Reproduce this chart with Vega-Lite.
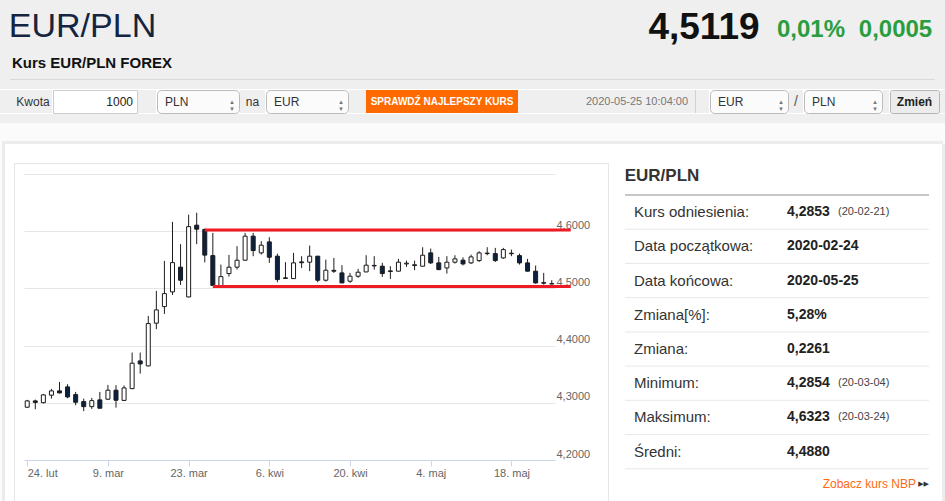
{
  "$schema": "https://vega.github.io/schema/vega-lite/v6.json",
  "background": "#ffffff",
  "padding": 0,
  "spacing": 0,
  "config": {"view": {"stroke": null}, "font": "Liberation Sans"},
  "data": {"values": [{}]},
  "datasets": {
    "candles": [
      {"d": "2020-02-24", "o": 4.2923, "h": 4.3051, "l": 4.2911, "c": 4.3033},
      {"d": "2020-02-25", "o": 4.3033, "h": 4.3056, "l": 4.2888, "c": 4.3007},
      {"d": "2020-02-26", "o": 4.3003, "h": 4.3156, "l": 4.2989, "c": 4.3138},
      {"d": "2020-02-27", "o": 4.3133, "h": 4.3243, "l": 4.3073, "c": 4.3208},
      {"d": "2020-02-28", "o": 4.3208, "h": 4.3365, "l": 4.3164, "c": 4.3173},
      {"d": "2020-03-02", "o": 4.3278, "h": 4.3325, "l": 4.3080, "c": 4.3103},
      {"d": "2020-03-03", "o": 4.3143, "h": 4.3190, "l": 4.2958, "c": 4.3010},
      {"d": "2020-03-04", "o": 4.3021, "h": 4.3073, "l": 4.2854, "c": 4.2933},
      {"d": "2020-03-05", "o": 4.2933, "h": 4.3086, "l": 4.2893, "c": 4.3038},
      {"d": "2020-03-06", "o": 4.3051, "h": 4.3190, "l": 4.2902, "c": 4.2905},
      {"d": "2020-03-09", "o": 4.3063, "h": 4.3313, "l": 4.3051, "c": 4.3220},
      {"d": "2020-03-10", "o": 4.3220, "h": 4.3308, "l": 4.2916, "c": 4.3045},
      {"d": "2020-03-11", "o": 4.3042, "h": 4.3304, "l": 4.3033, "c": 4.3260},
      {"d": "2020-03-12", "o": 4.3248, "h": 4.3878, "l": 4.3238, "c": 4.3692},
      {"d": "2020-03-13", "o": 4.3732, "h": 4.3878, "l": 4.3510, "c": 4.3680},
      {"d": "2020-03-16", "o": 4.3645, "h": 4.4519, "l": 4.3636, "c": 4.4385},
      {"d": "2020-03-17", "o": 4.4392, "h": 4.4956, "l": 4.4287, "c": 4.4624},
      {"d": "2020-03-18", "o": 4.4682, "h": 4.5481, "l": 4.4554, "c": 4.4909},
      {"d": "2020-03-19", "o": 4.4939, "h": 4.6163, "l": 4.4886, "c": 4.5451},
      {"d": "2020-03-20", "o": 4.5371, "h": 4.5773, "l": 4.5061, "c": 4.5143},
      {"d": "2020-03-23", "o": 4.4851, "h": 4.6290, "l": 4.4845, "c": 4.6080},
      {"d": "2020-03-24", "o": 4.6105, "h": 4.6323, "l": 4.5773, "c": 4.6035},
      {"d": "2020-03-25", "o": 4.6031, "h": 4.6045, "l": 4.5455, "c": 4.5582},
      {"d": "2020-03-26", "o": 4.5573, "h": 4.5970, "l": 4.5044, "c": 4.5052},
      {"d": "2020-03-27", "o": 4.5049, "h": 4.5416, "l": 4.5045, "c": 4.5206},
      {"d": "2020-03-30", "o": 4.5259, "h": 4.5586, "l": 4.5206, "c": 4.5371},
      {"d": "2020-03-31", "o": 4.5371, "h": 4.5738, "l": 4.5329, "c": 4.5493},
      {"d": "2020-04-01", "o": 4.5493, "h": 4.5970, "l": 4.5490, "c": 4.5913},
      {"d": "2020-04-02", "o": 4.5913, "h": 4.5970, "l": 4.5563, "c": 4.5661},
      {"d": "2020-04-03", "o": 4.5621, "h": 4.5825, "l": 4.5591, "c": 4.5755},
      {"d": "2020-04-06", "o": 4.5813, "h": 4.5895, "l": 4.5446, "c": 4.5545},
      {"d": "2020-04-07", "o": 4.5563, "h": 4.5608, "l": 4.5108, "c": 4.5154},
      {"d": "2020-04-08", "o": 4.5184, "h": 4.5458, "l": 4.5170, "c": 4.5175},
      {"d": "2020-04-09", "o": 4.5171, "h": 4.5621, "l": 4.5168, "c": 4.5446},
      {"d": "2020-04-10", "o": 4.5463, "h": 4.5563, "l": 4.5358, "c": 4.5449},
      {"d": "2020-04-13", "o": 4.5458, "h": 4.5748, "l": 4.5301, "c": 4.5563},
      {"d": "2020-04-14", "o": 4.5563, "h": 4.5570, "l": 4.5108, "c": 4.5143},
      {"d": "2020-04-15", "o": 4.5143, "h": 4.5503, "l": 4.5119, "c": 4.5318},
      {"d": "2020-04-16", "o": 4.5315, "h": 4.5533, "l": 4.5271, "c": 4.5301},
      {"d": "2020-04-17", "o": 4.5271, "h": 4.5406, "l": 4.5093, "c": 4.5096},
      {"d": "2020-04-20", "o": 4.5126, "h": 4.5271, "l": 4.5096, "c": 4.5213},
      {"d": "2020-04-21", "o": 4.5213, "h": 4.5341, "l": 4.5184, "c": 4.5283},
      {"d": "2020-04-22", "o": 4.5288, "h": 4.5580, "l": 4.5284, "c": 4.5406},
      {"d": "2020-04-23", "o": 4.5393, "h": 4.5563, "l": 4.5329, "c": 4.5402},
      {"d": "2020-04-24", "o": 4.5388, "h": 4.5446, "l": 4.5201, "c": 4.5259},
      {"d": "2020-04-27", "o": 4.5306, "h": 4.5388, "l": 4.5166, "c": 4.5295},
      {"d": "2020-04-28", "o": 4.5301, "h": 4.5516, "l": 4.5298, "c": 4.5458},
      {"d": "2020-04-29", "o": 4.5428, "h": 4.5486, "l": 4.5376, "c": 4.5441},
      {"d": "2020-04-30", "o": 4.5399, "h": 4.5486, "l": 4.5318, "c": 4.5414},
      {"d": "2020-05-01", "o": 4.5388, "h": 4.5720, "l": 4.5385, "c": 4.5580},
      {"d": "2020-05-04", "o": 4.5621, "h": 4.5696, "l": 4.5428, "c": 4.5446},
      {"d": "2020-05-05", "o": 4.5446, "h": 4.5551, "l": 4.5318, "c": 4.5329},
      {"d": "2020-05-06", "o": 4.5358, "h": 4.5563, "l": 4.5259, "c": 4.5458},
      {"d": "2020-05-07", "o": 4.5458, "h": 4.5580, "l": 4.5434, "c": 4.5516},
      {"d": "2020-05-08", "o": 4.5493, "h": 4.5542, "l": 4.5402, "c": 4.5428},
      {"d": "2020-05-11", "o": 4.5446, "h": 4.5591, "l": 4.5428, "c": 4.5551},
      {"d": "2020-05-12", "o": 4.5486, "h": 4.5650, "l": 4.5463, "c": 4.5621},
      {"d": "2020-05-13", "o": 4.5608, "h": 4.5720, "l": 4.5580, "c": 4.5617},
      {"d": "2020-05-14", "o": 4.5608, "h": 4.5708, "l": 4.5463, "c": 4.5486},
      {"d": "2020-05-15", "o": 4.5533, "h": 4.5708, "l": 4.5516, "c": 4.5678},
      {"d": "2020-05-18", "o": 4.5615, "h": 4.5678, "l": 4.5563, "c": 4.5607},
      {"d": "2020-05-19", "o": 4.5573, "h": 4.5608, "l": 4.5416, "c": 4.5446},
      {"d": "2020-05-20", "o": 4.5446, "h": 4.5516, "l": 4.5295, "c": 4.5301},
      {"d": "2020-05-21", "o": 4.5301, "h": 4.5399, "l": 4.5084, "c": 4.5096},
      {"d": "2020-05-22", "o": 4.5100, "h": 4.5271, "l": 4.5066, "c": 4.5091},
      {"d": "2020-05-25", "o": 4.5082, "h": 4.5143, "l": 4.5075, "c": 4.5077}
    ],
    "levels": [
      {"d": "2020-03-25", "d2": "2020-05-25", "lvl": 4.6023},
      {"d": "2020-03-26", "d2": "2020-05-25", "lvl": 4.5035}
    ],
    "stats": [
      {"k": "Kurs odniesienia:", "v": "4,2853", "dt": "(20-02-21)"},
      {"k": "Data początkowa:", "v": "2020-02-24", "dt": ""},
      {"k": "Data końcowa:", "v": "2020-05-25", "dt": ""},
      {"k": "Zmiana[%]:", "v": "5,28%", "dt": ""},
      {"k": "Zmiana:", "v": "0,2261", "dt": ""},
      {"k": "Minimum:", "v": "4,2854", "dt": "(20-03-04)"},
      {"k": "Maksimum:", "v": "4,6323", "dt": "(20-03-24)"},
      {"k": "Średni:", "v": "4,4880", "dt": ""}
    ]
  },
  "vconcat": [
    {
      "hconcat": [
        {"width": 165, "height": 52, "view": {"fill": "#efefef"}, "mark": {"type": "text", "text": "EUR/PLN", "fontSize": 34, "color": "#15253f", "dy": 1}},
        {"width": 479, "height": 52, "view": {"fill": "#efefef"}, "mark": {"type": "text", "text": "", "fontSize": 0}},
        {"width": 120, "height": 52, "view": {"fill": "#efefef"}, "mark": {"type": "text", "text": "4,5119", "fontWeight": "bold", "fontSize": 37, "color": "#111111", "dy": 2}},
        {"width": 94, "height": 52, "view": {"fill": "#efefef"}, "mark": {"type": "text", "text": "0,01%", "fontWeight": "bold", "fontSize": 24, "color": "#2a9d3f", "dy": 4}},
        {"width": 75, "height": 52, "view": {"fill": "#efefef"}, "mark": {"type": "text", "text": "0,0005", "fontWeight": "bold", "fontSize": 24, "color": "#2a9d3f", "dy": 4}},
        {"width": 12, "height": 52, "view": {"fill": "#efefef"}, "mark": {"type": "text", "text": "", "fontSize": 0}}
      ],
      "spacing": 0
    },
    {
      "hconcat": [
        {"width": 184, "height": 22, "view": {"fill": "#efefef"}, "mark": {"type": "text", "text": "Kurs EUR/PLN FOREX", "fontWeight": "bold", "fontSize": 15, "color": "#111111"}},
        {"width": 761, "height": 22, "view": {"fill": "#efefef"}, "mark": {"type": "text", "text": "", "fontSize": 0}}
      ],
      "spacing": 0
    },
    {"width": 945, "height": 5, "view": {"fill": "#efefef"}, "mark": {"type": "text", "text": "", "fontSize": 0}},
    {
      "hconcat": [
        {"width": 10, "height": 1, "view": {"fill": "#efefef"}, "mark": {"type": "text", "text": "", "fontSize": 0}},
        {"width": 925, "height": 1, "view": {"fill": "#d9d9d9"}, "mark": {"type": "text", "text": "", "fontSize": 0}},
        {"width": 10, "height": 1, "view": {"fill": "#efefef"}, "mark": {"type": "text", "text": "", "fontSize": 0}}
      ],
      "spacing": 0
    },
    {"width": 945, "height": 9, "view": {"fill": "#efefef"}, "mark": {"type": "text", "text": "", "fontSize": 0}},
    {
      "hconcat": [
        {"width": 14, "height": 23, "view": {"fill": "#efefef"}, "mark": {"type": "text", "text": "", "fontSize": 0}},
        {"width": 38, "height": 23, "view": {"fill": "#efefef"}, "mark": {"type": "text", "text": "Kwota", "fontSize": 12, "color": "#333333"}},
        {"width": 84, "height": 23, "view": {"fill": "#ffffff", "stroke": "#cccccc"}, "mark": {"type": "text", "text": "1000", "align": "right", "dx": 38, "fontSize": 12, "color": "#222222"}},
        {"width": 18, "height": 23, "view": {"fill": "#efefef"}, "mark": {"type": "text", "text": "", "fontSize": 0}},
        {"width": 82, "height": 23, "view": {"fill": "#fbfbfb", "stroke": "#bbbbbb", "cornerRadius": 4}, "layer": [
          {"mark": {"type": "text", "text": "PLN", "align": "left", "dx": -33, "fontSize": 12, "color": "#333333"}},
          {"mark": {"type": "text", "text": ["▴", "▾"], "dx": 34, "fontSize": 7, "lineHeight": 7, "color": "#777777", "font": "DejaVu Sans"}}
        ]},
        {"width": 25, "height": 23, "view": {"fill": "#efefef"}, "mark": {"type": "text", "text": "na", "fontSize": 12, "color": "#333333"}},
        {"width": 82, "height": 23, "view": {"fill": "#fbfbfb", "stroke": "#bbbbbb", "cornerRadius": 4}, "layer": [
          {"mark": {"type": "text", "text": "EUR", "align": "left", "dx": -33, "fontSize": 12, "color": "#333333"}},
          {"mark": {"type": "text", "text": ["▴", "▾"], "dx": 34, "fontSize": 7, "lineHeight": 7, "color": "#777777", "font": "DejaVu Sans"}}
        ]},
        {"width": 17, "height": 23, "view": {"fill": "#efefef"}, "mark": {"type": "text", "text": "", "fontSize": 0}},
        {"width": 152, "height": 23, "view": {"fill": "#ff6a00"}, "mark": {"type": "text", "text": "SPRAWDŹ NAJLEPSZY KURS", "fontWeight": "bold", "fontSize": 10, "color": "#ffffff"}},
        {"width": 66, "height": 23, "view": {"fill": "#efefef"}, "mark": {"type": "text", "text": "", "fontSize": 0}},
        {"width": 106, "height": 23, "view": {"fill": "#efefef"}, "mark": {"type": "text", "text": "2020-05-25 10:04:00", "fontSize": 11, "color": "#777777"}},
        {"width": 5, "height": 23, "view": {"fill": "#efefef"}, "mark": {"type": "text", "text": "", "fontSize": 0}},
        {"width": 1, "height": 23, "view": {"fill": "#d2d2d2"}, "mark": {"type": "text", "text": "", "fontSize": 0}},
        {"width": 13, "height": 23, "view": {"fill": "#efefef"}, "mark": {"type": "text", "text": "", "fontSize": 0}},
        {"width": 78, "height": 23, "view": {"fill": "#fbfbfb", "stroke": "#bbbbbb", "cornerRadius": 4}, "layer": [
          {"mark": {"type": "text", "text": "EUR", "align": "left", "dx": -31, "fontSize": 12, "color": "#333333"}},
          {"mark": {"type": "text", "text": ["▴", "▾"], "dx": 32, "fontSize": 7, "lineHeight": 7, "color": "#777777", "font": "DejaVu Sans"}}
        ]},
        {"width": 14, "height": 23, "view": {"fill": "#efefef"}, "mark": {"type": "text", "text": "/", "fontSize": 14, "color": "#555555"}},
        {"width": 78, "height": 23, "view": {"fill": "#fbfbfb", "stroke": "#bbbbbb", "cornerRadius": 4}, "layer": [
          {"mark": {"type": "text", "text": "PLN", "align": "left", "dx": -31, "fontSize": 12, "color": "#333333"}},
          {"mark": {"type": "text", "text": ["▴", "▾"], "dx": 32, "fontSize": 7, "lineHeight": 7, "color": "#777777", "font": "DejaVu Sans"}}
        ]},
        {"width": 6, "height": 23, "view": {"fill": "#efefef"}, "mark": {"type": "text", "text": "", "fontSize": 0}},
        {"width": 49, "height": 23, "view": {"fill": "#ececec", "stroke": "#b5b5b5", "cornerRadius": 2}, "mark": {"type": "text", "text": "Zmień", "fontWeight": "bold", "fontSize": 12, "color": "#222222"}},
        {"width": 17, "height": 23, "view": {"fill": "#efefef"}, "mark": {"type": "text", "text": "", "fontSize": 0}}
      ],
      "spacing": 0
    },
    {"width": 945, "height": 9, "view": {"fill": "#efefef"}, "mark": {"type": "text", "text": "", "fontSize": 0}},
    {"width": 945, "height": 18, "view": {"fill": "#fbfbfb"}, "mark": {"type": "text", "text": "", "fontSize": 0}},
    {
      "hconcat": [
        {"width": 2, "height": 3, "view": {"fill": "#fbfbfb"}, "mark": {"type": "text", "text": "", "fontSize": 0}},
        {"width": 941, "height": 3, "view": {"fill": "#ececec"}, "mark": {"type": "text", "text": "", "fontSize": 0}},
        {"width": 2, "height": 3, "view": {"fill": "#fbfbfb"}, "mark": {"type": "text", "text": "", "fontSize": 0}}
      ],
      "spacing": 0
    },
    {
      "hconcat": [
        {"width": 2, "height": 359, "view": {"fill": "#fbfbfb"}, "mark": {"type": "text", "text": "", "fontSize": 0}},
        {"width": 3, "height": 359, "view": {"fill": "#ececec"}, "mark": {"type": "text", "text": "", "fontSize": 0}},
        {"width": 9, "height": 359, "mark": {"type": "text", "text": "", "fontSize": 0}},
        {
          "vconcat": [
            {"width": 1, "height": 19, "mark": {"type": "text", "text": "", "fontSize": 0}},
            {"width": 1, "height": 340, "view": {"fill": "#e6e6e6"}, "mark": {"type": "text", "text": "", "fontSize": 0}}
          ],
          "spacing": 0
        },
        {
          "vconcat": [
            {"width": 9, "height": 19, "mark": {"type": "text", "text": "", "fontSize": 0}},
            {"width": 9, "height": 1, "view": {"fill": "#e6e6e6"}, "mark": {"type": "text", "text": "", "fontSize": 0}}
          ],
          "spacing": 0
        },
        {
          "vconcat": [
            {"width": 566, "height": 19, "mark": {"type": "text", "text": "", "fontSize": 0}},
            {"width": 566, "height": 1, "view": {"fill": "#e6e6e6"}, "mark": {"type": "text", "text": "", "fontSize": 0}},
            {"width": 531, "height": 10, "mark": {"type": "text", "text": "", "fontSize": 0}},
            {
              "width": 531,
              "height": 286,
              "data": {"name": "candles"},
              "encoding": {
                "x": {
                  "field": "d",
                  "type": "ordinal",
                  "scale": {"type": "point", "padding": 0.4},
                  "axis": {
                    "values": ["2020-02-24", "2020-03-09", "2020-03-23", "2020-04-06", "2020-04-20", "2020-05-04", "2020-05-18"],
                    "labelExpr": "toNumber(substring(datum.value, 8, 10)) + '. ' + (substring(datum.value, 5, 7) == '02' ? 'lut' : substring(datum.value, 5, 7) == '03' ? 'mar' : substring(datum.value, 5, 7) == '04' ? 'kwi' : 'maj')",
                    "title": null,
                    "grid": false,
                    "labelAngle": 0,
                    "domainColor": "#ccd6eb",
                    "tickColor": "#ccd6eb",
                    "tickSize": 6,
                    "labelPadding": 1,
                    "labelFlush": 5,
                    "labelColor": "#666666",
                    "labelFontSize": 11,
                    "labelFont": "Liberation Sans"
                  }
                }
              },
              "layer": [
                {
                  "mark": {"type": "rule", "color": "#1e1e1e", "strokeWidth": 1},
                  "encoding": {
                    "y": {
                      "field": "l",
                      "type": "quantitative",
                      "scale": {"domain": [4.2, 4.7], "nice": false, "zero": false},
                      "axis": {
                        "orient": "right",
                        "values": [4.2, 4.3, 4.4, 4.5, 4.6, 4.7],
                        "labelExpr": "datum.value > 4.65 ? '' : replace(format(datum.value, '.4f'), '.', ',')",
                        "title": null,
                        "domain": false,
                        "ticks": false,
                        "grid": true,
                        "gridColor": "#e6e6e6",
                        "labelAlign": "left",
                        "labelBaseline": "alphabetic",
                        "labelPadding": 1,
                        "labelOffset": -3,
                        "labelColor": "#666666",
                        "labelFontSize": 11,
                        "labelFont": "Liberation Sans"
                      }
                    },
                    "y2": {"field": "h"}
                  }
                },
                {
                  "mark": {"type": "bar", "width": 4, "stroke": "#1a1a1a", "strokeWidth": 1},
                  "encoding": {
                    "y": {"field": "o", "type": "quantitative"},
                    "y2": {"field": "c"},
                    "fill": {"condition": {"test": "datum.c >= datum.o", "value": "#ffffff"}, "value": "#0c2140"}
                  }
                },
                {
                  "data": {"name": "levels"},
                  "mark": {"type": "rule", "color": "#ee1b24", "strokeWidth": 3, "x2Offset": 19},
                  "encoding": {
                    "x2": {"field": "d2"},
                    "y": {"field": "lvl", "type": "quantitative"}
                  }
                }
              ]
            }
          ],
          "spacing": 0
        },
        {
          "vconcat": [
            {"width": 18, "height": 19, "mark": {"type": "text", "text": "", "fontSize": 0}},
            {"width": 18, "height": 1, "view": {"fill": "#e6e6e6"}, "mark": {"type": "text", "text": "", "fontSize": 0}}
          ],
          "spacing": 0
        },
        {
          "vconcat": [
            {"width": 1, "height": 19, "mark": {"type": "text", "text": "", "fontSize": 0}},
            {"width": 1, "height": 340, "view": {"fill": "#e6e6e6"}, "mark": {"type": "text", "text": "", "fontSize": 0}}
          ],
          "spacing": 0
        },
        {"width": 15, "height": 359, "mark": {"type": "text", "text": "", "fontSize": 0}},
        {
          "vconcat": [
            {"width": 304, "height": 20, "mark": {"type": "text", "text": "", "fontSize": 0}},
            {"width": 74, "height": 30, "mark": {"type": "text", "text": "EUR/PLN", "fontSize": 17, "fontWeight": "bold", "color": "#333333", "dy": -3}},
            {
              "width": 304,
              "height": 308,
              "data": {"name": "stats"},
              "encoding": {
                "y": {
                  "field": "k",
                  "type": "nominal",
                  "scale": {
                    "type": "band",
                    "domain": ["Kurs odniesienia:", "Data początkowa:", "Data końcowa:", "Zmiana[%]:", "Zmiana:", "Minimum:", "Maksimum:", "Średni:", "Zobacz kurs NBP"],
                    "paddingInner": 0,
                    "paddingOuter": 0
                  },
                  "axis": null
                }
              },
              "layer": [
                {
                  "mark": {"type": "rule", "color": "#e8e8e8", "strokeWidth": 1},
                  "encoding": {"y": {"field": "k", "type": "nominal", "bandPosition": 1}}
                },
                {
                  "data": {"values": [{}]},
                  "mark": {"type": "rule", "color": "#c8c8c8", "strokeWidth": 2},
                  "encoding": {"y": {"datum": "Kurs odniesienia:", "type": "nominal", "bandPosition": 0}}
                },
                {
                  "mark": {"type": "text", "align": "left", "dx": -143, "fontSize": 15, "color": "#333333"},
                  "encoding": {"text": {"field": "k"}}
                },
                {
                  "mark": {"type": "text", "align": "left", "dx": 10, "fontSize": 14, "fontWeight": "bold", "color": "#222222"},
                  "encoding": {"text": {"field": "v"}}
                },
                {
                  "mark": {"type": "text", "align": "left", "dx": 61, "fontSize": 11, "color": "#444444"},
                  "encoding": {"text": {"field": "dt"}}
                },
                {
                  "data": {"values": [{}]},
                  "mark": {"type": "text", "align": "right", "dx": 139, "dy": -2, "fontSize": 12, "color": "#ff6a13", "text": "Zobacz kurs NBP"},
                  "encoding": {"y": {"datum": "Zobacz kurs NBP", "type": "nominal"}}
                },
                {
                  "data": {"values": [{}]},
                  "mark": {"type": "text", "align": "right", "dx": 152, "dy": -2, "fontSize": 7, "color": "#333333", "font": "DejaVu Sans", "text": "▶▶"},
                  "encoding": {"y": {"datum": "Zobacz kurs NBP", "type": "nominal"}}
                }
              ]
            }
          ],
          "spacing": 0
        },
        {"width": 12, "height": 359, "mark": {"type": "text", "text": "", "fontSize": 0}},
        {"width": 3, "height": 359, "view": {"fill": "#ececec"}, "mark": {"type": "text", "text": "", "fontSize": 0}},
        {"width": 2, "height": 359, "view": {"fill": "#fbfbfb"}, "mark": {"type": "text", "text": "", "fontSize": 0}}
      ],
      "spacing": 0
    }
  ]
}
